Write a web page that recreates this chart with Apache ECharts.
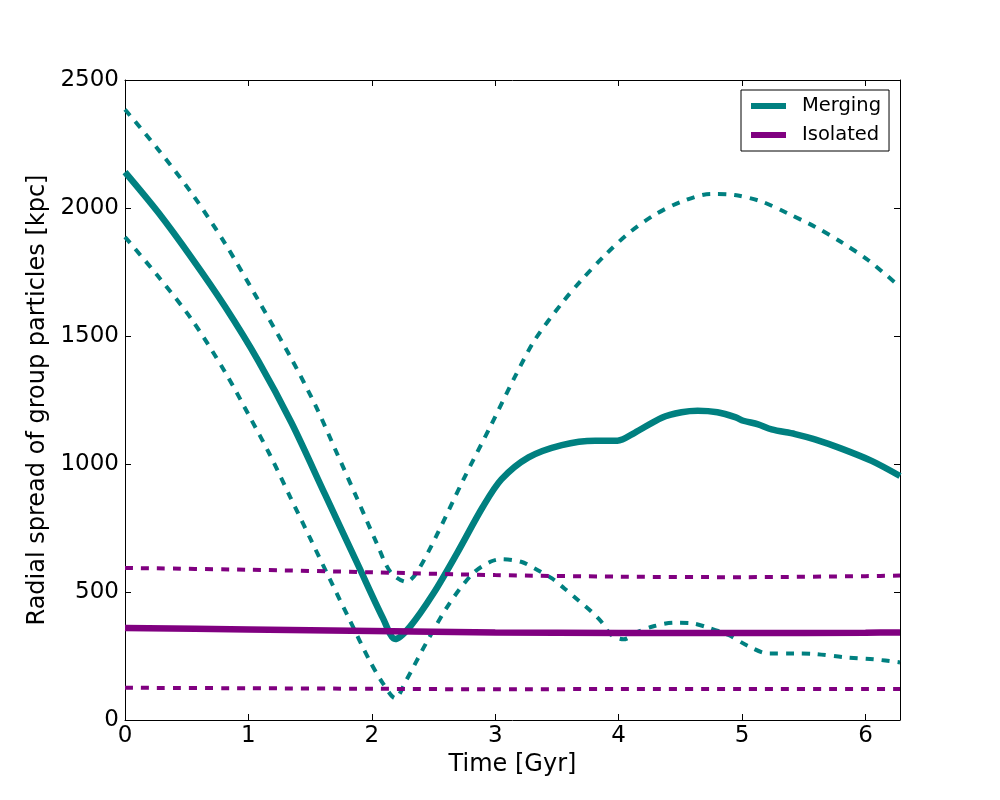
<!DOCTYPE html>
<html>
<head>
<meta charset="utf-8">
<script src="https://cdn.jsdelivr.net/npm/echarts@6/dist/echarts.min.js"></script>
<style>
html,body{margin:0;padding:0;background:#fff;}
#chart{width:1000px;height:800px;}
</style>
</head>
<body>
<div id="chart"></div>
<script>
// ---- Data ----
const mergeMeanT = [0, 0.27, 0.54, 0.81, 1.08, 1.35, 1.62, 1.89, 2.09, 2.19, 2.31, 2.50, 2.69, 2.90, 3.05, 3.27, 3.54, 3.81, 3.99, 4.13, 4.35, 4.51, 4.64, 4.80, 4.95, 5.01, 5.13, 5.24, 5.43, 5.59, 5.80, 6.05, 6.28];
const mergeMeanR = [2140, 1982, 1805, 1615, 1403, 1160, 882, 604, 398, 316, 365, 495, 651, 833, 940, 1026, 1074, 1091, 1091, 1122, 1181, 1202, 1208, 1202, 1182, 1169, 1155, 1135, 1117, 1096, 1061, 1012, 953];

const mergeUpperT = [0, 0.27, 0.54, 0.81, 1.08, 1.35, 1.55, 1.71, 1.88, 2.04, 2.15, 2.28, 2.36, 2.52, 2.74, 2.96, 3.16, 3.32, 3.54, 3.70, 3.89, 4.08, 4.29, 4.51, 4.75, 4.94, 5.16, 5.37, 5.59, 5.80, 6.02, 6.28];
const mergeUpperR = [2385, 2228, 2058, 1862, 1640, 1410, 1222, 1050, 866, 690, 579, 540, 573, 716, 937, 1146, 1341, 1484, 1628, 1719, 1816, 1901, 1973, 2025, 2055, 2051, 2025, 1979, 1927, 1868, 1797, 1692];

const mergeLowerT = [0, 0.27, 0.54, 0.81, 1.01, 1.17, 1.34, 1.50, 1.66, 1.82, 1.98, 2.09, 2.19, 2.28, 2.44, 2.63, 2.82, 2.96, 3.05, 3.21, 3.32, 3.46, 3.56, 3.67, 3.78, 3.86, 3.94, 4.04, 4.16, 4.29, 4.45, 4.59, 4.72, 4.89, 5.05, 5.21, 5.43, 5.59, 5.83, 6.07, 6.28];
const mergeLowerR = [1887, 1732, 1565, 1360, 1185, 1040, 870, 710, 550, 391, 234, 143, 85, 156, 300, 456, 573, 618, 628, 618, 592, 553, 514, 469, 423, 384, 332, 315, 345, 367, 380, 378, 362, 332, 289, 260, 260, 258, 245, 237, 225];

const isoT      = [0, 1, 2, 3, 4, 5, 6, 6.28];
const isoMeanR  = [359, 354, 348, 342, 340, 340, 341, 342];
const isoUpperR = [594, 587, 577, 566, 560, 558, 562, 564];
const isoLowerR = [126, 124, 122, 120, 121, 121, 121, 121];

const xTicks = {min: 0, max: 6.28, interval: 1};
const yTicks = {min: 0, max: 2500, interval: 500};

// ---- Build ----
const zip = (t, r) => t.map((v, i) => [v, r[i]]);
const TEAL = '#008080', PURPLE = '#800080';
const FONT = 'DejaVu Sans';

function lineSeries(name, t, r, color, dashed) {
  return {
    name: name, type: 'line', data: zip(t, r),
    showSymbol: false, symbol: 'none', smooth: 0.3,
    color: color,
    lineStyle: dashed ? {color: color, width: 4, type: [8, 8]} : {color: color, width: 6.5},
    emphasis: {disabled: true}, silent: true
  };
}

function axis(extra) {
  return Object.assign({
    type: 'value',
    axisLine: {show: true, onZero: false, lineStyle: {color: '#000', width: 1}},
    axisTick: {show: true, inside: true, length: 6, lineStyle: {color: '#000', width: 1}},
    splitLine: {show: false}
  }, extra);
}

const chart = echarts.init(document.getElementById('chart'), null, {renderer: 'canvas'});
chart.setOption({
  animation: false,
  backgroundColor: '#fff',
  grid: {left: 125, right: 100, top: 80, bottom: 80, containLabel: false},
  legend: {
    data: ['Merging', 'Isolated'],
    orient: 'vertical', left: 741, top: 90,
    icon: 'rect', itemWidth: 35, itemHeight: 6, itemGap: 7,
    padding: [5, 8, 5, 10],
    backgroundColor: '#fff', borderColor: '#000', borderWidth: 1, borderRadius: 0,
    selectedMode: false,
    textStyle: {fontFamily: FONT, fontSize: 19.5, color: '#000', lineHeight: 22, padding: [0, 0, 0, 11]}
  },
  xAxis: [
    axis({
      position: 'bottom', min: xTicks.min, max: xTicks.max, interval: xTicks.interval,
      name: 'Time [Gyr]', nameLocation: 'middle', nameGap: 28,
      nameTextStyle: {fontFamily: FONT, fontSize: 24, color: '#000'},
      axisLabel: {show: true, fontFamily: FONT, fontSize: 23, color: '#000', margin: 5, showMaxLabel: false,
                  formatter: v => String(v)}
    }),
    axis({
      position: 'top', min: xTicks.min, max: xTicks.max, interval: xTicks.interval,
      axisLabel: {show: false}
    })
  ],
  yAxis: [
    axis({
      position: 'left', min: yTicks.min, max: yTicks.max, interval: yTicks.interval,
      name: 'Radial spread of group particles [kpc]', nameLocation: 'middle', nameGap: 66,
      nameTextStyle: {fontFamily: FONT, fontSize: 24, color: '#000'},
      axisLabel: {show: true, fontFamily: FONT, fontSize: 23, color: '#000', margin: 6,
                  formatter: v => String(v)}
    }),
    axis({
      position: 'right', min: yTicks.min, max: yTicks.max, interval: yTicks.interval,
      axisLabel: {show: false}
    })
  ],
  series: [
    lineSeries('Merging', mergeMeanT, mergeMeanR, TEAL, false),
    lineSeries('Merging upper', mergeUpperT, mergeUpperR, TEAL, true),
    lineSeries('Merging lower', mergeLowerT, mergeLowerR, TEAL, true),
    lineSeries('Isolated', isoT, isoMeanR, PURPLE, false),
    lineSeries('Isolated upper', isoT, isoUpperR, PURPLE, true),
    lineSeries('Isolated lower', isoT, isoLowerR, PURPLE, true)
  ]
});
</script>
</body>
</html>
